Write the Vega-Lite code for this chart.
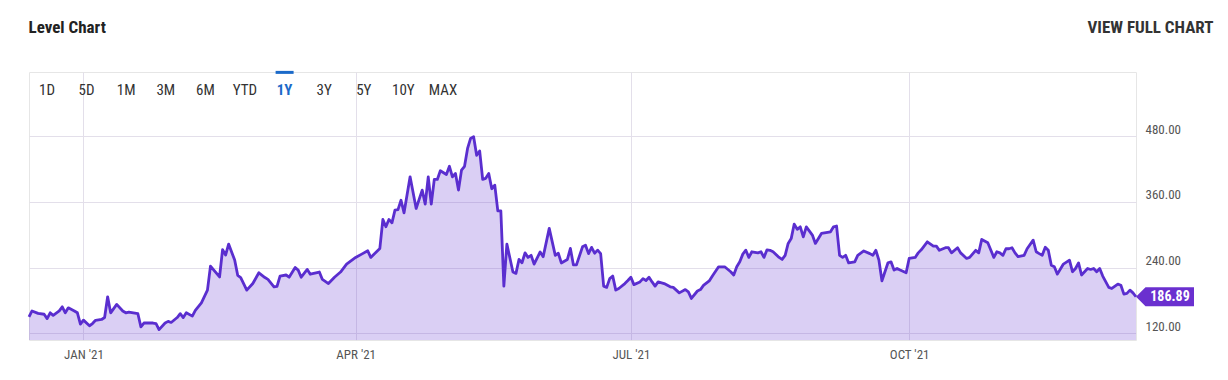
{
  "$schema": "https://vega.github.io/schema/vega-lite/v6.json",
  "width": 1107,
  "height": 268,
  "autosize": {"type": "none"},
  "padding": {"left": 29, "top": 72, "right": 92, "bottom": 40},
  "background": "white",
  "config": {
    "font": "Roboto Condensed, Liberation Sans Narrow, DejaVu Sans Condensed, Roboto, sans-serif",
    "view": {"stroke": "#e6e6e6", "strokeWidth": 1}
  },
  "datasets": {
    "level": [
      {"date": "2020-12-14", "value": 150}, {"date": "2020-12-15", "value": 161}, {"date": "2020-12-17", "value": 156.5},
      {"date": "2020-12-19", "value": 155}, {"date": "2020-12-20", "value": 147}, {"date": "2020-12-21", "value": 157.6},
      {"date": "2020-12-22", "value": 153}, {"date": "2020-12-24", "value": 161}, {"date": "2020-12-25", "value": 168.5},
      {"date": "2020-12-26", "value": 157.6}, {"date": "2020-12-27", "value": 166.7}, {"date": "2020-12-29", "value": 161},
      {"date": "2020-12-30", "value": 157.6}, {"date": "2020-12-31", "value": 137}, {"date": "2021-01-01", "value": 144.3},
      {"date": "2021-01-03", "value": 134}, {"date": "2021-01-04", "value": 138}, {"date": "2021-01-05", "value": 144},
      {"date": "2021-01-07", "value": 145.5}, {"date": "2021-01-08", "value": 149}, {"date": "2021-01-09", "value": 186.8},
      {"date": "2021-01-10", "value": 157.6}, {"date": "2021-01-12", "value": 173}, {"date": "2021-01-14", "value": 161},
      {"date": "2021-01-15", "value": 157.6}, {"date": "2021-01-16", "value": 159}, {"date": "2021-01-19", "value": 156},
      {"date": "2021-01-20", "value": 132}, {"date": "2021-01-21", "value": 139}, {"date": "2021-01-24", "value": 139},
      {"date": "2021-01-25", "value": 138}, {"date": "2021-01-26", "value": 127}, {"date": "2021-01-28", "value": 139},
      {"date": "2021-01-29", "value": 142}, {"date": "2021-01-30", "value": 140}, {"date": "2021-02-01", "value": 149},
      {"date": "2021-02-02", "value": 156}, {"date": "2021-02-03", "value": 149}, {"date": "2021-02-04", "value": 157.6},
      {"date": "2021-02-06", "value": 151.6}, {"date": "2021-02-07", "value": 162}, {"date": "2021-02-09", "value": 175.8},
      {"date": "2021-02-11", "value": 199}, {"date": "2021-02-12", "value": 242.8}, {"date": "2021-02-15", "value": 223},
      {"date": "2021-02-16", "value": 273}, {"date": "2021-02-17", "value": 263}, {"date": "2021-02-18", "value": 283},
      {"date": "2021-02-20", "value": 253.8}, {"date": "2021-02-21", "value": 226}, {"date": "2021-02-22", "value": 222},
      {"date": "2021-02-24", "value": 199}, {"date": "2021-02-26", "value": 211}, {"date": "2021-02-28", "value": 230.6},
      {"date": "2021-03-02", "value": 222}, {"date": "2021-03-03", "value": 218.7}, {"date": "2021-03-05", "value": 205},
      {"date": "2021-03-06", "value": 206}, {"date": "2021-03-07", "value": 224.6}, {"date": "2021-03-09", "value": 226.6},
      {"date": "2021-03-10", "value": 222.6}, {"date": "2021-03-12", "value": 240.4}, {"date": "2021-03-13", "value": 235.5},
      {"date": "2021-03-14", "value": 222.6}, {"date": "2021-03-16", "value": 236.7}, {"date": "2021-03-17", "value": 228},
      {"date": "2021-03-20", "value": 232}, {"date": "2021-03-21", "value": 218.5}, {"date": "2021-03-23", "value": 211},
      {"date": "2021-03-25", "value": 222.6}, {"date": "2021-03-27", "value": 232}, {"date": "2021-03-29", "value": 246.5},
      {"date": "2021-04-01", "value": 258.7}, {"date": "2021-04-03", "value": 264.7}, {"date": "2021-04-05", "value": 270.7},
      {"date": "2021-04-06", "value": 258.7}, {"date": "2021-04-09", "value": 275}, {"date": "2021-04-10", "value": 328},
      {"date": "2021-04-11", "value": 314.5}, {"date": "2021-04-12", "value": 328}, {"date": "2021-04-13", "value": 321.8},
      {"date": "2021-04-14", "value": 345}, {"date": "2021-04-15", "value": 345.8}, {"date": "2021-04-16", "value": 363},
      {"date": "2021-04-17", "value": 340}, {"date": "2021-04-19", "value": 405.8}, {"date": "2021-04-21", "value": 348},
      {"date": "2021-04-23", "value": 381.5}, {"date": "2021-04-24", "value": 356}, {"date": "2021-04-25", "value": 405.8},
      {"date": "2021-04-26", "value": 356}, {"date": "2021-04-27", "value": 401}, {"date": "2021-04-28", "value": 401},
      {"date": "2021-04-29", "value": 416.7}, {"date": "2021-05-01", "value": 410}, {"date": "2021-05-02", "value": 425},
      {"date": "2021-05-03", "value": 405.8}, {"date": "2021-05-04", "value": 411.7}, {"date": "2021-05-05", "value": 381.5},
      {"date": "2021-05-06", "value": 418}, {"date": "2021-05-07", "value": 425}, {"date": "2021-05-08", "value": 457.6},
      {"date": "2021-05-09", "value": 475.8}, {"date": "2021-05-10", "value": 478.8}, {"date": "2021-05-11", "value": 445},
      {"date": "2021-05-12", "value": 453}, {"date": "2021-05-13", "value": 401}, {"date": "2021-05-14", "value": 403},
      {"date": "2021-05-15", "value": 411.7}, {"date": "2021-05-16", "value": 384}, {"date": "2021-05-17", "value": 390.6},
      {"date": "2021-05-18", "value": 343.7}, {"date": "2021-05-19", "value": 343.7}, {"date": "2021-05-20", "value": 206.3},
      {"date": "2021-05-21", "value": 283}, {"date": "2021-05-23", "value": 232}, {"date": "2021-05-24", "value": 229.5},
      {"date": "2021-05-25", "value": 255}, {"date": "2021-05-26", "value": 249}, {"date": "2021-05-27", "value": 267},
      {"date": "2021-05-28", "value": 258.7}, {"date": "2021-05-29", "value": 262.5}, {"date": "2021-05-30", "value": 246.5},
      {"date": "2021-06-01", "value": 268.6}, {"date": "2021-06-02", "value": 260}, {"date": "2021-06-04", "value": 311.6},
      {"date": "2021-06-06", "value": 262.5}, {"date": "2021-06-07", "value": 266.4}, {"date": "2021-06-08", "value": 248.6},
      {"date": "2021-06-10", "value": 255}, {"date": "2021-06-11", "value": 275}, {"date": "2021-06-12", "value": 245},
      {"date": "2021-06-13", "value": 245}, {"date": "2021-06-15", "value": 278}, {"date": "2021-06-16", "value": 281},
      {"date": "2021-06-17", "value": 265.6}, {"date": "2021-06-18", "value": 277}, {"date": "2021-06-19", "value": 266.4},
      {"date": "2021-06-20", "value": 272}, {"date": "2021-06-21", "value": 265.6}, {"date": "2021-06-22", "value": 206.3},
      {"date": "2021-06-23", "value": 204}, {"date": "2021-06-24", "value": 220}, {"date": "2021-06-25", "value": 224.6},
      {"date": "2021-06-26", "value": 199}, {"date": "2021-06-27", "value": 202}, {"date": "2021-06-29", "value": 211},
      {"date": "2021-06-30", "value": 216.5}, {"date": "2021-07-01", "value": 222.6}, {"date": "2021-07-02", "value": 209},
      {"date": "2021-07-04", "value": 214}, {"date": "2021-07-05", "value": 220}, {"date": "2021-07-06", "value": 216.5},
      {"date": "2021-07-07", "value": 222.6}, {"date": "2021-07-08", "value": 214}, {"date": "2021-07-09", "value": 206.3},
      {"date": "2021-07-10", "value": 214}, {"date": "2021-07-12", "value": 211}, {"date": "2021-07-14", "value": 205},
      {"date": "2021-07-15", "value": 204}, {"date": "2021-07-17", "value": 194}, {"date": "2021-07-19", "value": 200},
      {"date": "2021-07-20", "value": 195.7}, {"date": "2021-07-21", "value": 183.8}, {"date": "2021-07-23", "value": 197.4},
      {"date": "2021-07-24", "value": 200}, {"date": "2021-07-25", "value": 207.6}, {"date": "2021-07-27", "value": 216.5},
      {"date": "2021-07-28", "value": 225.3}, {"date": "2021-07-30", "value": 241.6}, {"date": "2021-08-01", "value": 241.6},
      {"date": "2021-08-03", "value": 232.6}, {"date": "2021-08-04", "value": 226.6}, {"date": "2021-08-05", "value": 241.6},
      {"date": "2021-08-06", "value": 250.6}, {"date": "2021-08-07", "value": 264.7}, {"date": "2021-08-08", "value": 271.8},
      {"date": "2021-08-09", "value": 258.7}, {"date": "2021-08-10", "value": 269}, {"date": "2021-08-12", "value": 267},
      {"date": "2021-08-13", "value": 269}, {"date": "2021-08-14", "value": 258.7}, {"date": "2021-08-15", "value": 272.6},
      {"date": "2021-08-16", "value": 271.6}, {"date": "2021-08-17", "value": 269}, {"date": "2021-08-19", "value": 258.7},
      {"date": "2021-08-20", "value": 255}, {"date": "2021-08-21", "value": 262.5}, {"date": "2021-08-22", "value": 284.2},
      {"date": "2021-08-23", "value": 293}, {"date": "2021-08-24", "value": 319.5}, {"date": "2021-08-25", "value": 310},
      {"date": "2021-08-26", "value": 314.5}, {"date": "2021-08-27", "value": 296.3}, {"date": "2021-08-28", "value": 314.5},
      {"date": "2021-08-30", "value": 299.5}, {"date": "2021-08-31", "value": 284.2}, {"date": "2021-09-02", "value": 302.5},
      {"date": "2021-09-05", "value": 305.5}, {"date": "2021-09-06", "value": 314.5}, {"date": "2021-09-07", "value": 316},
      {"date": "2021-09-08", "value": 262.5}, {"date": "2021-09-09", "value": 258.7}, {"date": "2021-09-10", "value": 262.5},
      {"date": "2021-09-11", "value": 248.6}, {"date": "2021-09-13", "value": 250.6}, {"date": "2021-09-14", "value": 262.5},
      {"date": "2021-09-16", "value": 270.5}, {"date": "2021-09-18", "value": 265.6}, {"date": "2021-09-19", "value": 262.5},
      {"date": "2021-09-20", "value": 271.6}, {"date": "2021-09-21", "value": 253.7}, {"date": "2021-09-22", "value": 216},
      {"date": "2021-09-24", "value": 249}, {"date": "2021-09-25", "value": 250.6}, {"date": "2021-09-26", "value": 235.6},
      {"date": "2021-09-27", "value": 238.5}, {"date": "2021-09-28", "value": 235.6}, {"date": "2021-09-30", "value": 230.7},
      {"date": "2021-10-01", "value": 256.8}, {"date": "2021-10-03", "value": 258.7}, {"date": "2021-10-04", "value": 267},
      {"date": "2021-10-05", "value": 272.6}, {"date": "2021-10-07", "value": 287.2}, {"date": "2021-10-09", "value": 279.3},
      {"date": "2021-10-10", "value": 279.3}, {"date": "2021-10-11", "value": 271.6}, {"date": "2021-10-13", "value": 276.4},
      {"date": "2021-10-14", "value": 276.4}, {"date": "2021-10-15", "value": 267}, {"date": "2021-10-17", "value": 276.4},
      {"date": "2021-10-18", "value": 267}, {"date": "2021-10-20", "value": 256.8}, {"date": "2021-10-21", "value": 258.7},
      {"date": "2021-10-23", "value": 271.6}, {"date": "2021-10-24", "value": 267}, {"date": "2021-10-25", "value": 291.5},
      {"date": "2021-10-27", "value": 285.4}, {"date": "2021-10-29", "value": 258.7}, {"date": "2021-10-30", "value": 269},
      {"date": "2021-10-31", "value": 267}, {"date": "2021-11-01", "value": 262.5}, {"date": "2021-11-02", "value": 274.5},
      {"date": "2021-11-03", "value": 274.5}, {"date": "2021-11-04", "value": 276.4}, {"date": "2021-11-05", "value": 267},
      {"date": "2021-11-06", "value": 260}, {"date": "2021-11-08", "value": 262.5}, {"date": "2021-11-09", "value": 274.5},
      {"date": "2021-11-11", "value": 290.2}, {"date": "2021-11-12", "value": 269}, {"date": "2021-11-13", "value": 265.6},
      {"date": "2021-11-14", "value": 262.5}, {"date": "2021-11-15", "value": 277.3}, {"date": "2021-11-16", "value": 271.6},
      {"date": "2021-11-17", "value": 244.5}, {"date": "2021-11-18", "value": 241.6}, {"date": "2021-11-19", "value": 228.2},
      {"date": "2021-11-21", "value": 246.5}, {"date": "2021-11-23", "value": 253.7}, {"date": "2021-11-24", "value": 232.6},
      {"date": "2021-11-25", "value": 238.5}, {"date": "2021-11-26", "value": 248.6}, {"date": "2021-11-27", "value": 226.6},
      {"date": "2021-11-29", "value": 238.5}, {"date": "2021-11-30", "value": 236.7}, {"date": "2021-12-01", "value": 238.5},
      {"date": "2021-12-02", "value": 232.6}, {"date": "2021-12-03", "value": 238.5}, {"date": "2021-12-04", "value": 224.6},
      {"date": "2021-12-06", "value": 204}, {"date": "2021-12-07", "value": 202}, {"date": "2021-12-09", "value": 210},
      {"date": "2021-12-10", "value": 208}, {"date": "2021-12-11", "value": 191.7}, {"date": "2021-12-12", "value": 193},
      {"date": "2021-12-13", "value": 199}, {"date": "2021-12-14", "value": 194}, {"date": "2021-12-15", "value": 186.89}
    ],
    "buttons": [
      {"range": "1D"}, {"range": "5D"}, {"range": "1M"}, {"range": "3M"}, {"range": "6M"}, {"range": "YTD"},
      {"range": "1Y"}, {"range": "3Y"}, {"range": "5Y"}, {"range": "10Y"}, {"range": "MAX"}
    ]
  },
  "resolve": {"scale": {"x": "independent", "y": "independent"}, "axis": {"x": "independent", "y": "independent"}},
  "layer": [
    {
      "data": {"name": "level"},
      "encoding": {
        "x": {
          "field": "date",
          "type": "temporal",
          "scale": {
            "type": "utc",
            "domain": [
              {"year": 2020, "month": "dec", "date": 14, "utc": true},
              {"year": 2021, "month": "dec", "date": 15, "utc": true}
            ],
            "nice": false
          },
          "axis": {
            "values": [
              {"year": 2021, "month": "jan", "date": 1, "utc": true},
              {"year": 2021, "month": "apr", "date": 1, "utc": true},
              {"year": 2021, "month": "jul", "date": 1, "utc": true},
              {"year": 2021, "month": "oct", "date": 1, "utc": true}
            ],
            "labelExpr": "upper(utcFormat(datum.value, \"%b '%y\"))",
            "grid": true,
            "gridColor": "#e3dfea",
            "domain": false,
            "ticks": false,
            "labelPadding": 8,
            "labelBaseline": "top",
            "labelFontSize": 13,
            "labelColor": "#555555",
            "labelFlush": false,
            "labelOverlap": false,
            "title": "Level Chart",
            "titleX": -1,
            "titleY": -308,
            "titleAlign": "left",
            "titleAnchor": null,
            "titleBaseline": "alphabetic",
            "titleFontSize": 17,
            "titleFontWeight": "bold",
            "titleColor": "#222222"
          }
        },
        "y": {
          "field": "value",
          "type": "quantitative",
          "scale": {"domain": [108, 597], "nice": false, "zero": false},
          "axis": {
            "orient": "right",
            "values": [120, 240, 360, 480],
            "format": ".2f",
            "grid": true,
            "gridColor": "#e3dfea",
            "domain": false,
            "ticks": false,
            "labelPadding": 9,
            "labelFontSize": 13,
            "labelColor": "#555555",
            "labelBaseline": "alphabetic",
            "labelOffset": -3,
            "title": "VIEW FULL CHART",
            "titleAngle": 0,
            "titleX": 77,
            "titleY": -40,
            "titleAlign": "right",
            "titleBaseline": "alphabetic",
            "titleFontSize": 17,
            "titleFontWeight": "bold",
            "titleColor": "#333333"
          }
        }
      },
      "layer": [
        {
          "mark": {"type": "area", "color": "#6a3fd3", "opacity": 0.25},
          "encoding": {"y2": {"datum": 108}}
        },
        {
          "mark": {"type": "line", "color": "#5a2ecf", "strokeWidth": 2.8, "strokeJoin": "round"}
        },
        {
          "transform": [{"filter": "datum.value === 186.89"}],
          "mark": {
            "type": "point",
            "shape": "M0,0L0.95,-0.95L5.8,-0.95L5.8,0.95L0.95,0.95Z",
            "size": 400,
            "filled": true,
            "opacity": 1,
            "color": "#6a30cf",
            "strokeWidth": 0
          }
        },
        {
          "transform": [{"filter": "datum.value === 186.89"}],
          "mark": {
            "type": "text",
            "color": "white",
            "fontWeight": "bold",
            "fontSize": 14,
            "dx": 34,
            "dy": 0.5,
            "align": "center",
            "baseline": "middle"
          },
          "encoding": {"text": {"field": "value", "type": "quantitative", "format": ".2f"}}
        }
      ]
    },
    {
      "data": {"name": "buttons"},
      "encoding": {
        "x": {
          "field": "range",
          "type": "nominal",
          "scale": {
            "type": "point",
            "domain": ["1D", "5D", "1M", "3M", "6M", "YTD", "1Y", "3Y", "5Y", "10Y", "MAX"],
            "range": [18, 414],
            "padding": 0
          },
          "axis": null
        }
      },
      "layer": [
        {
          "transform": [{"filter": "datum.range !== '1Y'"}],
          "mark": {"type": "text", "fontSize": 15, "color": "#333333", "baseline": "middle", "align": "center"},
          "encoding": {
            "y": {"datum": 564, "type": "quantitative", "scale": {"domain": [108, 597], "nice": false, "zero": false}, "axis": null},
            "text": {"field": "range"}
          }
        },
        {
          "transform": [{"filter": "datum.range === '1Y'"}],
          "mark": {"type": "text", "fontSize": 15, "fontWeight": "bold", "color": "#1b6ac9", "baseline": "middle", "align": "center"},
          "encoding": {
            "y": {"datum": 564, "type": "quantitative", "scale": {"domain": [108, 597], "nice": false, "zero": false}, "axis": null},
            "text": {"field": "range"}
          }
        },
        {
          "transform": [{"filter": "datum.range === '1Y'"}],
          "mark": {"type": "tick", "orient": "horizontal", "size": 18, "thickness": 3, "color": "#1b6ac9", "opacity": 1},
          "encoding": {
            "y": {"datum": 596.3, "type": "quantitative", "scale": {"domain": [108, 597], "nice": false, "zero": false}, "axis": null}
          }
        }
      ]
    }
  ]
}
